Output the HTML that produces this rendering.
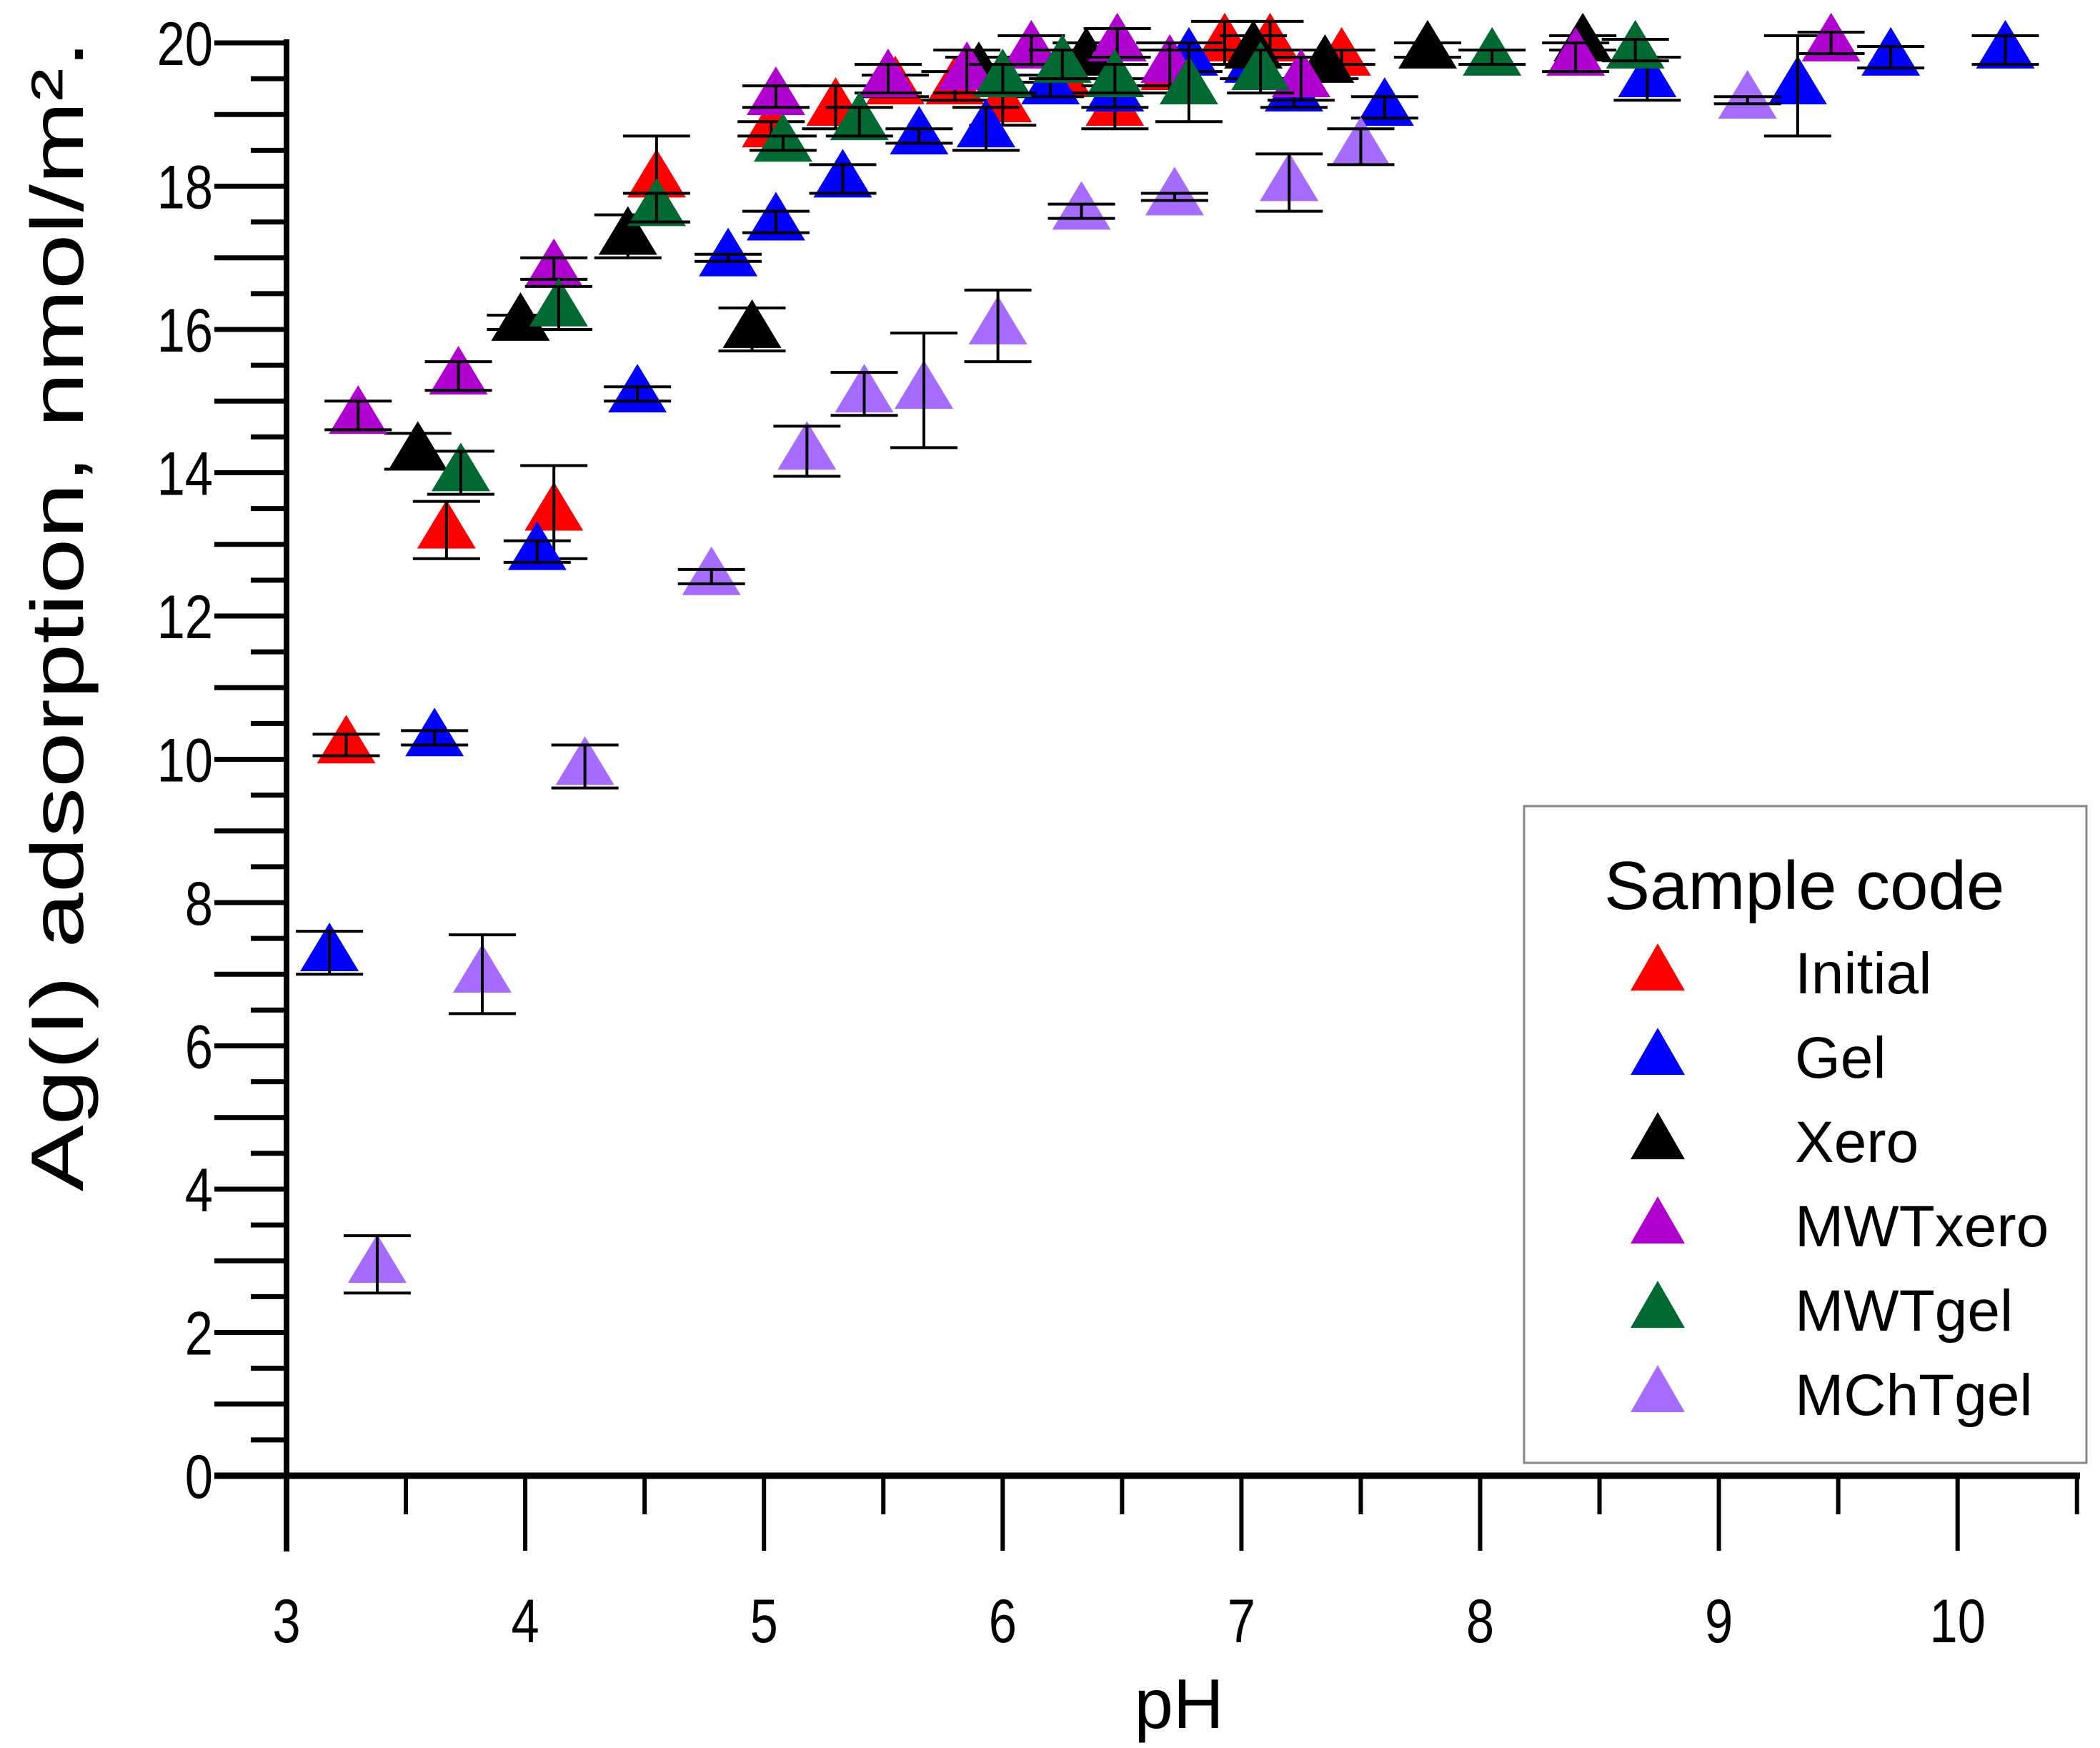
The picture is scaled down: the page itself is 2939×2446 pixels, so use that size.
<!DOCTYPE html>
<html><head><meta charset="utf-8"><style>
html,body{margin:0;padding:0;background:#fff;}
svg{display:block;font-family:"Liberation Sans",Arial,sans-serif;}
</style></head><body>
<svg id="chart" width="2939" height="2446" viewBox="0 0 2939 2446" xmlns="http://www.w3.org/2000/svg">
<g id="axes"></g>
<g id="marks"></g>
<text transform="translate(1650,2418)" font-size="98" text-anchor="middle">pH</text>
<text transform="translate(116,862) rotate(-90) scale(1.34,1)" font-size="104" text-anchor="middle">Ag(I) adsorption, nmol/m².</text>
<g id="legend">
<rect x="2133" y="1128" width="787" height="919" fill="#fff" stroke="#888" stroke-width="3"/>
<text x="2245" y="1272" font-size="96">Sample code</text>
</g>
</svg>
<script>
const seriesNames = ["Initial","Gel","Xero","MWTxero","MWTgel","MChTgel"];
const seriesColors = ["#ff0000","#0000ff","#000000","#b000d0","#006a32","#a66bff"];
const initialX=[3.25,3.67,4.12,4.55,5.03,5.3,5.55,5.8,6.0,6.25,6.47,6.7,6.93,7.12,7.42];
const initialY=[10.2,13.2,13.45,18.1,18.8,19.1,19.4,19.4,19.15,19.5,19.1,19.6,20.0,20.0,19.8];
const initialE=[0.15,0.4,0.65,0.6,0.1,0.3,0.15,0.2,0.3,0.2,0.3,0.3,0.3,0.3,0.1];
const gelX=[3.18,3.62,4.05,4.47,4.85,5.05,5.33,5.65,5.93,6.2,6.47,6.78,7.05,7.22,7.6,8.7,9.33,9.72,10.2];
const gelY=[7.3,10.3,12.9,15.1,17.0,17.5,18.1,18.7,18.8,19.4,19.3,19.8,19.7,19.3,19.1,19.5,19.4,19.8,19.9];
const gelE=[0.3,0.1,0.15,0.1,0.05,0.15,0.2,0.1,0.3,0.15,0.2,0.2,0.2,0.2,0.15,0.3,0.7,0.15,0.2];
const xeroX=[3.55,3.98,4.43,4.95,5.9,6.35,7.05,7.35,7.78,8.43];
const xeroY=[14.3,16.1,17.3,16.0,19.6,19.8,19.9,19.7,19.9,20.0];
const xeroE=[0.25,0.1,0.3,0.3,0.2,0.2,0.2,0.2,0.1,0.1];
const mwtxeroX=[3.3,3.72,4.12,5.05,5.52,5.85,6.12,6.48,6.7,7.25,8.4,9.47];
const mwtxeroY=[14.8,15.35,16.85,19.25,19.5,19.6,19.9,20.0,19.7,19.5,19.8,20.0];
const mwtxeroE=[0.2,0.2,0.15,0.15,0.2,0.3,0.2,0.2,0.3,0.3,0.2,0.15];
const mwtgelX=[3.73,4.14,4.55,5.08,5.4,6.0,6.25,6.47,6.78,7.08,8.05,8.65];
const mwtgelY=[14.0,16.3,17.7,18.6,18.9,19.5,19.7,19.5,19.4,19.6,19.8,19.9];
const mwtgelE=[0.3,0.3,0.2,0.1,0.2,0.2,0.2,0.2,0.5,0.3,0.1,0.15];
const mchtgelX=[3.38,3.82,4.25,4.78,5.18,5.42,5.67,5.98,6.33,6.72,7.2,7.5,9.12];
const mchtgelY=[2.95,7.0,9.9,12.55,14.3,15.1,15.15,16.05,17.65,17.85,18.05,18.55,19.2];
const mchtgelE=[0.4,0.55,0.3,0.1,0.35,0.3,0.8,0.5,0.1,0.05,0.4,0.25,0.05];
const xTickLabels=["3","4","5","6","7","8","9","10"];
const yTickLabels=["0","2","4","6","8","10","12","14","16","18","20"];

const NS="http://www.w3.org/2000/svg";
const X0=401,XU=334.1,Y0=2065,YU=100.25;
function sx(v){return X0+(v-3)*XU;}
function sy(v){return Y0-v*YU;}
function mk(tag,attrs,parent){const e=document.createElementNS(NS,tag);for(const k in attrs)e.setAttribute(k,attrs[k]);parent.appendChild(e);return e;}
const axes=document.getElementById('axes');
let l=mk('line',{x1:X0,y1:55,x2:X0,y2:2171,stroke:'#000','stroke-width':8},axes);


l=mk('line',{x1:300,y1:Y0,x2:2911,y2:Y0,stroke:'#000','stroke-width':9},axes);


for(let i=0;i<=15;i++){const v=3+i*0.5;const maj=i%2===0;
 const t=mk('line',{x1:sx(v),y1:Y0,x2:sx(v),y2:Y0+(maj?105:54),stroke:'#000','stroke-width':6},axes);
 
 }
xTickLabels.forEach(s=>{const v=parseFloat(s);
 const t=mk('text',{transform:'translate('+sx(v)+',2298) scale(0.82,1)','font-size':86,'text-anchor':'middle'},axes);t.textContent=s;
 
 });
for(let i=0;i<=40;i++){const v=i*0.5;const maj=i%2===0;
 const t=mk('line',{x1:X0,y1:sy(v),x2:X0-(maj?101:50),y2:sy(v),stroke:'#000','stroke-width':7},axes);
 
 }
yTickLabels.forEach(s=>{const v=parseFloat(s);
 const t=mk('text',{transform:'translate(298,'+(sy(v)+31)+') scale(0.82,1)','font-size':86,'text-anchor':'end'},axes);t.textContent=s;
 
 });

const marks=document.getElementById('marks');
const allX=[initialX,gelX,xeroX,mwtxeroX,mwtgelX,mchtgelX];
const allY=[initialY,gelY,xeroY,mwtxeroY,mwtgelY,mchtgelY];
const allE=[initialE,gelE,xeroE,mwtxeroE,mwtgelE,mchtgelE];
function tri(cx,cy,w,h){return (cx)+','+(cy-h*0.62)+' '+(cx-w/2)+','+(cy+h*0.38)+' '+(cx+w/2)+','+(cy+h*0.38);}
allX.forEach((xs,si)=>{
 const g=mk('g',{},marks);
 
 
 xs.forEach((xv,i)=>{
  const cx=sx(xv),cy=sy(allY[si][i]);
  const p=mk('polygon',{points:tri(cx,cy,82,68),fill:seriesColors[si]},g);
  
  
  const e=allE[si][i];const yt=sy(allY[si][i]+e),yb=sy(allY[si][i]-e);
  const eb=mk('path',{d:'M'+cx+' '+yt+'V'+yb+'M'+(cx-47)+' '+yt+'H'+(cx+47)+'M'+(cx-47)+' '+yb+'H'+(cx+47),stroke:'#000','stroke-width':4,fill:'none'},g);
  
  
 });
});
const leg=document.getElementById('legend');
seriesNames.forEach((n,i)=>{const cy=1361+i*118;
 const p=mk('polygon',{points:tri(2320,cy,76,66),fill:seriesColors[i]},leg);
 
 
 const t=mk('text',{x:2512,y:cy+29,'font-size':82},leg);t.textContent=n;
 
 });
</script>
</body></html>
